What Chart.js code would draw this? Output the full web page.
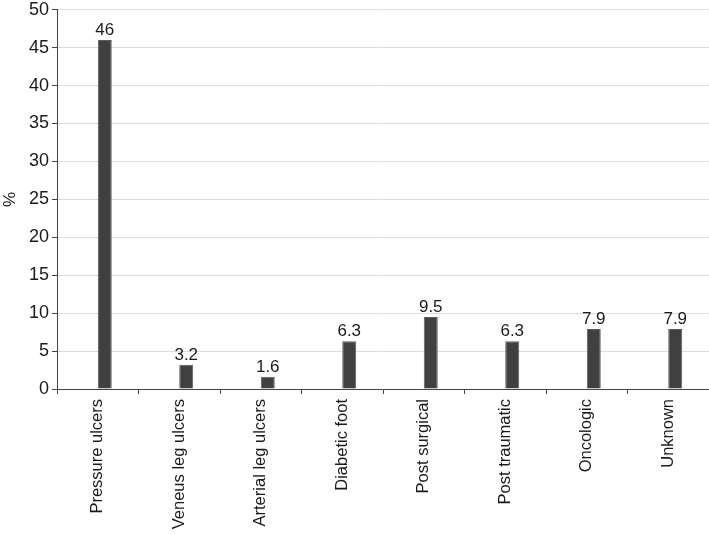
<!DOCTYPE html>
<html>
<head>
<meta charset="utf-8">
<script src="https://cdn.jsdelivr.net/npm/chart.js@4/dist/chart.umd.min.js"></script>
<style>
html,body{margin:0;padding:0;background:#fff;}
#wrap{width:709px;height:534px;position:relative;}
</style>
</head>
<body>
<div id="wrap"><canvas id="c" width="709" height="534"></canvas></div>
<script>
const categories = ["Pressure ulcers","Veneus leg ulcers","Arterial leg ulcers","Diabetic foot","Post surgical","Post traumatic","Oncologic","Unknown"];
const percentValues = [46, 3.2, 1.6, 6.3, 9.5, 6.3, 7.9, 7.9];
const emptySeries = [null, null, null, null, null, null, null, null];
const yTicks = [0,5,10,15,20,25,30,35,40,45,50];

const FONT = "'Liberation Sans', Arial, sans-serif";

const valueLabels = {
  id: 'valueLabels',
  afterDatasetsDraw(chart) {
    const ctx = chart.ctx;
    const meta = chart.getDatasetMeta(1);
    ctx.save();
    ctx.font = "17px " + FONT;
    ctx.fillStyle = "#1a1a1a";
    ctx.textAlign = "center";
    ctx.textBaseline = "bottom";
    meta.data.forEach((bar, i) => {
      ctx.fillText(String(percentValues[i]), bar.x, bar.y - 1);
    });
    ctx.restore();
  }
};

new Chart(document.getElementById('c'), {
  type: 'bar',
  data: {
    labels: categories,
    datasets: [
      { data: emptySeries, backgroundColor: 'rgba(0,0,0,0)' },
      { data: percentValues, backgroundColor: '#404040', borderColor: '#5c5c5c', borderWidth: 1 }
    ]
  },
  options: {
    responsive: false,
    animation: false,
    devicePixelRatio: 1,
    layout: { padding: { top: 0, right: 0, left: 0, bottom: 0 } },
    plugins: { legend: { display: false }, tooltip: { enabled: false } },
    datasets: { bar: { categoryPercentage: 0.3436, barPercentage: 1 } },
    scales: {
      x: {
        offset: true,
        grid: { offset: true, drawOnChartArea: false, drawTicks: true, tickLength: 5, color: '#444' },
        border: { color: '#444', width: 1 },
        ticks: { minRotation: 90, maxRotation: 90, autoSkip: false, padding: 5, color: '#1a1a1a', font: { family: FONT, size: 16.5 } },
        afterFit(scale) { scale.height = 145; }
      },
      y: {
        min: 0, max: 50,
        afterBuildTicks(scale) { scale.ticks = yTicks.map(v => ({ value: v })); },
        grid: { color: '#dcdcdc', drawTicks: true, tickLength: 5, tickColor: '#444' },
        border: { color: '#444', width: 1 },
        ticks: { padding: 3, color: '#1a1a1a', font: { family: FONT, size: 18, lineHeight: 0.75 } },
        title: { display: true, text: '%', color: '#1a1a1a', font: { family: FONT, size: 17 }, padding: { top: 0, bottom: 4 } },
        afterFit(scale) { scale.width = 57; }
      }
    }
  },
  plugins: [valueLabels]
});
</script>
</body>
</html>
